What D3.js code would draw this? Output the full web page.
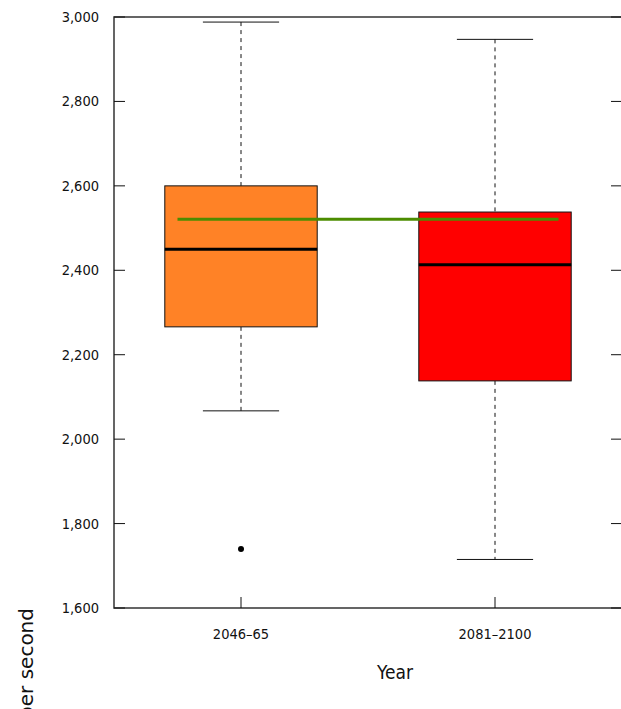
<!DOCTYPE html>
<html lang="en">
<head>
    <meta charset="UTF-8"/>
    <title>Box plot</title>
    <script src="https://d3js.org/d3.v7.min.js" charset="utf-8"></script>
    <style type="text/css">
        body { margin: 0; background: #fff; }
        text {
            font-family: "DejaVu Sans Condensed", "DejaVu Sans", sans-serif;
            font-stretch: condensed;
            fill: #111;
        }
        text.ytitle {
            font-family: "DejaVu Sans", sans-serif;
            font-stretch: normal;
        }
    </style>
</head>
<body>
<svg width="621" height="709"></svg>
<script type="text/javascript">
    // data
    var categories = ["2046\u201365", "2081\u20132100"];
    var boxColors = ["#ff8226", "#ff0000"];
    var lowerWhisker = [2067, 1715];
    var q1 = [2266, 2138];
    var medians = [2450, 2413];
    var q3 = [2600, 2538];
    var upperWhisker = [2988, 2947];
    var outliers = [[1740], []];
    var referenceValue = 2521;
    var yTicks = [1600, 1800, 2000, 2200, 2400, 2600, 2800, 3000];

    var svg = d3.select("svg");
    var plotLeft = 114, plotRight = 622, plotTop = 17, plotBottom = 608;

    var x = d3.scaleLinear().domain([0.5, 2.5]).range([plotLeft, plotRight]);
    var y = d3.scaleLinear().domain([1600, 3000]).range([plotBottom, plotTop]);
    var boxHalf = 0.3, capHalf = 0.15;

    // frame
    svg.append("path")
        .attr("d", "M" + plotRight + "," + plotTop + "H" + plotLeft + "V" + plotBottom + "H" + plotRight)
        .attr("fill", "none")
        .attr("stroke", "#333")
        .attr("stroke-width", 1.5);

    // y ticks (inside, both sides)
    var yAxis = svg.append("g");
    yTicks.forEach(function(t) {
        yAxis.append("line")
            .attr("x1", plotLeft).attr("x2", plotLeft + 11)
            .attr("y1", y(t)).attr("y2", y(t))
            .attr("stroke", "#111").attr("stroke-width", 1);
        yAxis.append("line")
            .attr("x1", plotRight - 11).attr("x2", plotRight)
            .attr("y1", y(t)).attr("y2", y(t))
            .attr("stroke", "#111").attr("stroke-width", 1);
        yAxis.append("text")
            .attr("x", 99).attr("y", y(t) + 5)
            .attr("text-anchor", "end")
            .style("font-size", "14.5px")
            .text(d3.format(",")(t));
    });

    // x ticks
    categories.forEach(function(c, i) {
        svg.append("line")
            .attr("x1", x(i + 1)).attr("x2", x(i + 1))
            .attr("y1", plotBottom - 11).attr("y2", plotBottom)
            .attr("stroke", "#111");
        svg.append("text")
            .attr("x", x(i + 1)).attr("y", 639)
            .attr("text-anchor", "middle")
            .style("font-size", "14.5px")
            .text(c);
    });

    // boxes
    var g = svg.append("g");
    categories.forEach(function(c, i) {
        var cx = x(i + 1);
        g.append("line")
            .attr("x1", cx).attr("x2", cx)
            .attr("y1", y(upperWhisker[i])).attr("y2", y(q3[i]))
            .attr("stroke", "#111").attr("stroke-dasharray", "4,4");
        g.append("line")
            .attr("x1", cx).attr("x2", cx)
            .attr("y1", y(q1[i])).attr("y2", y(lowerWhisker[i]))
            .attr("stroke", "#111").attr("stroke-dasharray", "4,4");
        [upperWhisker[i], lowerWhisker[i]].forEach(function(v) {
            g.append("line")
                .attr("x1", x(i + 1 - capHalf)).attr("x2", x(i + 1 + capHalf))
                .attr("y1", y(v)).attr("y2", y(v))
                .attr("stroke", "#111");
        });
        g.append("rect")
            .attr("x", x(i + 1 - boxHalf))
            .attr("y", y(q3[i]))
            .attr("width", x(i + 1 + boxHalf) - x(i + 1 - boxHalf))
            .attr("height", y(q1[i]) - y(q3[i]))
            .attr("fill", boxColors[i])
            .attr("stroke", "#111");
        g.append("line")
            .attr("x1", x(i + 1 - boxHalf)).attr("x2", x(i + 1 + boxHalf))
            .attr("y1", y(medians[i])).attr("y2", y(medians[i]))
            .attr("stroke", "#000").attr("stroke-width", 3);
        outliers[i].forEach(function(v) {
            g.append("circle")
                .attr("cx", cx).attr("cy", y(v)).attr("r", 3)
                .attr("fill", "#000");
        });
    });

    // reference line
    svg.append("line")
        .attr("x1", x(0.75)).attr("x2", x(2.25))
        .attr("y1", y(referenceValue)).attr("y2", y(referenceValue))
        .attr("stroke", "#4c8c00").attr("stroke-width", 3);

    // axis titles
    svg.append("text")
        .attr("x", 395).attr("y", 679)
        .attr("text-anchor", "middle")
        .style("font-size", "19px")
        .text("Year");
    svg.append("text")
        .attr("class", "ytitle")
        .attr("transform", "translate(33,608) rotate(-90)")
        .attr("text-anchor", "end")
        .style("font-size", "20px")
        .text("Streamflow, in cubic feet per second");
</script>
</body>
</html>
